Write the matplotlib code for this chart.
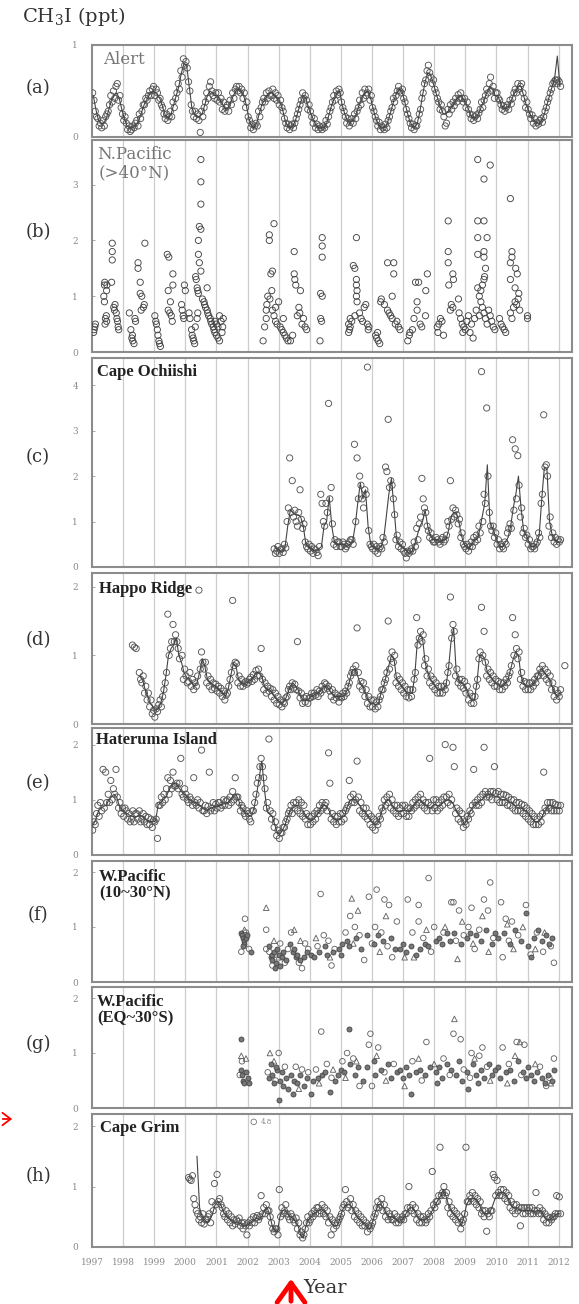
import matplotlib
matplotlib.use("Agg")
import matplotlib.pyplot as plt
import numpy as np

plt.rcParams["font.family"] = ["DejaVu Serif"]
plt.rcParams["mathtext.fontset"] = "dejavuserif"

W, H = 579, 1304
YEARS = list(range(1997, 2013))

# ---------------------------------------------------------------------------
# data.  monthly series are in ppt x 100
# "_line" = one value per month, "_obs" = two samples per month
# ---------------------------------------------------------------------------

# (a) Alert, from Jan 1997
alert_start = (1997, 1)
alert_line = [
    45, 30, 18, 15, 15, 20, 30, 40, 45, 48, 42, 30,
    20, 12, 10, 10, 12, 15, 22, 30, 38, 42, 48, 50,
    48, 45, 40, 30, 22, 20, 25, 35, 45, 55, 70, 80,
    78, 55, 32, 25, 22, 22, 25, 35, 45, 50, 48, 45,
    45, 40, 35, 30, 32, 38, 45, 50, 52, 50, 45, 35,
    20, 12, 10, 15, 25, 35, 40, 45, 48, 48, 45, 42,
    38, 30, 18, 12, 10, 12, 18, 28, 38, 45, 42, 32,
    25, 18, 12, 10, 10, 10, 15, 25, 35, 42, 48, 50,
    35, 25, 18, 15, 18, 22, 30, 38, 45, 48, 50, 42,
    30, 20, 14, 10, 10, 12, 20, 30, 40, 48, 52, 50,
    40, 28, 18, 12, 10, 15, 28, 45, 60, 70, 68, 60,
    50, 40, 32, 25, 25, 28, 32, 36, 40, 44, 45, 40,
    35, 28, 22, 20, 22, 28, 35, 42, 50, 55, 52, 45,
    45, 38, 32, 30, 32, 38, 45, 50, 55, 55, 45, 35,
    28, 22, 18, 15, 15, 18, 25, 35, 45, 55, 65, 88,
    55,
]
alert_obs = [
    48, 40, 28, 22, 20, 12, 15, 10, 18, 12, 22, 25, 28, 35, 45, 38, 50, 42, 55, 58, 40, 45, 32, 25,
    18, 22, 15, 8, 12, 6, 8, 12, 10, 15, 18, 12, 25, 20, 28, 35, 35, 42, 40, 45, 50, 45, 52, 55,
    45, 52, 48, 40, 42, 35, 32, 25, 20, 25, 18, 22, 28, 22, 38, 32, 42, 48, 58, 52, 72, 65, 85, 78,
    82, 75, 60, 50, 35, 28, 22, 28, 20, 25, 18, 5, 28, 22, 32, 38, 48, 42, 55, 60, 50, 45, 42, 48,
    40, 48, 38, 42, 30, 38, 28, 32, 35, 28, 40, 35, 48, 42, 52, 55, 50, 55, 48, 52, 42, 48, 32, 38,
    22, 18, 10, 14, 8, 12, 15, 12, 28, 22, 32, 38, 42, 38, 48, 42, 50, 45, 45, 52, 42, 48, 40, 45,
    35, 40, 32, 28, 20, 15, 10, 14, 8, 12, 14, 10, 15, 20, 25, 30, 35, 40, 48, 42, 45, 40, 30, 35,
    28, 22, 15, 20, 10, 14, 8, 12, 10, 8, 12, 10, 18, 14, 22, 28, 32, 38, 45, 40, 50, 46, 52, 48,
    38, 32, 28, 22, 15, 20, 12, 16, 20, 15, 25, 20, 28, 32, 40, 35, 48, 42, 52, 45, 48, 52, 40, 45,
    32, 28, 22, 18, 12, 16, 8, 12, 10, 8, 14, 10, 18, 22, 28, 32, 42, 38, 45, 50, 55, 50, 48, 52,
    42, 38, 30, 25, 20, 15, 10, 14, 8, 12, 12, 18, 25, 30, 42, 48, 58, 62, 72, 78, 70, 65, 58, 62,
    52, 48, 42, 38, 30, 35, 28, 22, 12, 15, 30, 25, 35, 30, 38, 34, 42, 38, 46, 42, 48, 42, 38, 42,
    32, 38, 30, 25, 20, 24, 18, 22, 24, 20, 26, 30, 38, 32, 40, 45, 52, 48, 58, 65, 50, 55, 42, 48,
    48, 42, 40, 35, 30, 34, 28, 32, 35, 30, 40, 36, 42, 48, 52, 48, 58, 52, 55, 58, 48, 42, 32, 38,
    30, 25, 20, 24, 15, 20, 12, 16, 14, 18, 20, 16, 22, 28, 32, 38, 42, 48, 52, 58, 60, 62, 58, 62,
    60, 55,
]

# (b) N.Pacific (>40N), ship data (year, ppt)
npac_pts = [
    (1997.05, 0.35), (1997.07, 0.40), (1997.09, 0.45), (1997.11, 0.50),
    (1997.40, 1.20), (1997.41, 1.25), (1997.38, 1.00), (1997.40, 0.90), (1997.43, 0.60), (1997.42, 0.50),
    (1997.47, 1.10), (1997.48, 1.20), (1997.46, 0.65), (1997.47, 0.55),
    (1997.65, 1.95), (1997.65, 1.80), (1997.65, 1.65), (1997.63, 1.25),
    (1997.70, 0.80), (1997.72, 0.75), (1997.74, 0.85),
    (1997.80, 0.60), (1997.82, 0.55), (1997.84, 0.45), (1997.86, 0.40), (1997.78, 0.70),
    (1998.20, 0.70), (1998.25, 0.40), (1998.28, 0.25), (1998.30, 0.30), (1998.31, 0.20),
    (1998.35, 0.15), (1998.40, 0.55), (1998.38, 0.60),
    (1998.48, 1.60), (1998.48, 1.50), (1998.55, 1.25), (1998.55, 1.05), (1998.60, 1.00),
    (1998.65, 0.80), (1998.58, 0.75), (1998.70, 1.95), (1998.68, 0.85),
    (1999.02, 0.65), (1999.05, 0.55), (1999.07, 0.50), (1999.10, 0.40), (1999.12, 0.30),
    (1999.15, 0.20), (1999.17, 0.15), (1999.20, 0.10),
    (1999.42, 1.75), (1999.47, 1.70), (1999.60, 1.40), (1999.60, 1.20), (1999.45, 1.10),
    (1999.52, 0.90), (1999.45, 0.75), (1999.50, 0.70), (1999.55, 0.65), (1999.58, 0.55),
    (1999.88, 0.85), (1999.90, 0.75), (1999.93, 0.65), (1999.95, 0.60), (1999.97, 1.20),
    (2000.00, 1.10), (2000.12, 0.70), (2000.15, 0.60),
    (2000.20, 0.40), (2000.22, 0.30), (2000.25, 0.25), (2000.27, 0.20), (2000.30, 0.15), (2000.32, 0.45),
    (2000.50, 3.45), (2000.50, 3.05), (2000.50, 2.65), (2000.45, 2.25), (2000.50, 2.20),
    (2000.42, 2.00), (2000.42, 1.75), (2000.45, 1.60), (2000.50, 1.45), (2000.33, 1.35),
    (2000.35, 1.30), (2000.38, 1.15), (2000.40, 1.10), (2000.42, 1.05), (2000.55, 0.95),
    (2000.60, 0.90), (2000.70, 1.15), (2000.38, 0.60), (2000.40, 0.70),
    (2000.62, 0.85), (2000.65, 0.80), (2000.70, 0.75), (2000.72, 0.70), (2000.75, 0.65),
    (2000.80, 0.60), (2000.82, 0.55), (2000.85, 0.50), (2000.90, 0.45), (2000.92, 0.40),
    (2000.95, 0.35), (2001.00, 0.30), (2001.05, 0.25), (2001.10, 0.20), (2001.15, 0.55),
    (2001.20, 0.45), (2001.22, 0.60), (2001.10, 0.65), (2000.95, 0.55), (2001.00, 0.50),
    (2001.05, 0.45), (2001.18, 0.35),
    (2002.50, 0.20), (2002.55, 0.45), (2002.60, 0.60), (2002.62, 0.85), (2002.65, 1.00),
    (2002.70, 2.10), (2002.70, 2.00), (2002.75, 1.40), (2002.78, 1.10), (2002.80, 1.45),
    (2002.85, 2.30), (2002.80, 0.75), (2002.85, 0.65), (2002.90, 0.55), (2002.95, 0.50),
    (2003.00, 0.90), (2003.05, 0.45), (2003.10, 0.40), (2003.15, 0.35), (2003.20, 0.30),
    (2003.25, 0.25), (2003.30, 0.20), (2002.60, 0.75), (2002.72, 0.95), (2002.90, 0.80),
    (2003.15, 0.60),
    (2003.50, 1.80), (2003.50, 1.40), (2003.52, 1.30), (2003.55, 1.20), (2003.70, 1.10),
    (2003.65, 0.80), (2003.68, 0.70), (2003.80, 0.60), (2003.75, 0.50), (2003.90, 0.40),
    (2003.45, 0.30), (2003.38, 0.20), (2003.60, 0.65), (2003.85, 0.45),
    (2004.40, 2.05), (2004.40, 1.90), (2004.40, 1.70), (2004.35, 1.05), (2004.40, 1.00),
    (2004.35, 0.60), (2004.38, 0.55), (2004.33, 0.20),
    (2005.50, 2.05), (2005.40, 1.55), (2005.45, 1.50), (2005.50, 1.30), (2005.50, 1.20),
    (2005.52, 1.10), (2005.50, 1.00), (2005.52, 0.90), (2005.80, 0.85), (2005.75, 0.80),
    (2005.60, 0.70), (2005.45, 0.65), (2005.30, 0.60), (2005.35, 0.55), (2005.25, 0.50),
    (2005.30, 0.45), (2005.28, 0.40), (2005.25, 0.35), (2005.85, 0.50), (2005.90, 0.45),
    (2005.88, 0.40), (2005.65, 0.60), (2005.70, 0.55),
    (2006.12, 0.30), (2006.15, 0.25), (2006.20, 0.20), (2006.25, 0.15), (2006.18, 0.35),
    (2006.50, 1.60), (2006.70, 1.60), (2006.70, 1.40), (2006.28, 0.90), (2006.30, 0.95),
    (2006.40, 0.85), (2006.50, 0.75), (2006.55, 0.70), (2006.60, 0.65), (2006.65, 0.60),
    (2006.75, 0.50), (2006.85, 0.45), (2006.65, 1.00), (2006.80, 0.55), (2006.90, 0.40),
    (2007.15, 0.20), (2007.20, 0.30), (2007.22, 0.35), (2007.30, 0.40), (2007.35, 0.60),
    (2007.45, 0.75), (2007.45, 0.90), (2007.40, 1.25), (2007.50, 1.25), (2007.73, 1.10),
    (2007.78, 1.40), (2007.55, 0.50), (2007.60, 0.45), (2007.72, 0.65),
    (2008.10, 0.45), (2008.15, 0.50), (2008.20, 0.60), (2008.25, 0.55), (2008.30, 0.30), (2008.12, 0.35),
    (2008.45, 2.35), (2008.45, 1.80), (2008.45, 1.60), (2008.60, 1.40), (2008.62, 1.30),
    (2008.47, 1.20), (2008.78, 0.95), (2008.55, 0.85), (2008.60, 0.80), (2008.52, 0.75),
    (2008.80, 0.70), (2008.85, 0.60), (2008.90, 0.50), (2008.95, 0.45), (2009.00, 0.40),
    (2009.05, 0.55), (2009.10, 0.65), (2009.15, 0.35), (2009.25, 0.25), (2009.20, 0.50),
    (2008.92, 0.35), (2009.30, 0.60),
    (2009.40, 3.45), (2009.80, 3.35), (2009.60, 3.10), (2009.40, 2.35), (2009.60, 2.35),
    (2009.70, 2.05), (2009.40, 2.05), (2009.40, 1.75), (2009.60, 1.80), (2009.60, 1.70),
    (2009.65, 1.50), (2009.62, 1.35), (2009.60, 1.30), (2009.40, 1.15), (2009.55, 1.20),
    (2009.50, 1.10), (2009.45, 1.00), (2009.50, 0.90), (2009.55, 0.80), (2009.60, 0.70),
    (2009.65, 0.60), (2009.70, 0.50), (2009.75, 0.75), (2009.80, 0.65), (2009.85, 0.55),
    (2009.90, 0.45), (2009.95, 0.40), (2009.45, 0.65), (2009.35, 0.75),
    (2010.10, 0.60), (2010.15, 0.50), (2010.20, 0.45), (2010.25, 0.40), (2010.30, 0.35),
    (2010.45, 2.75), (2010.50, 1.80), (2010.45, 1.60), (2010.50, 1.70), (2010.62, 1.50),
    (2010.45, 1.30), (2010.67, 1.40), (2010.60, 1.15), (2010.72, 1.05), (2010.70, 0.95),
    (2010.65, 0.85), (2010.55, 0.80), (2010.45, 0.70), (2010.50, 0.60), (2010.75, 0.75),
    (2010.60, 0.90),
    (2011.00, 0.65), (2011.00, 0.60),
]

# (c) Cape Ochiishi, from Nov 2002
ochiishi_start = (2002, 11)
ochiishi_line = [
    45, 40,
    35, 35, 45, 90, 125, 120, 115, 115, 110, 90, 50, 45,
    40, 38, 35, 40, 45, 90, 100, 155, 90, 55, 50, 50,
    50, 50, 45, 50, 55, 90, 140, 185, 150, 170, 90, 50,
    45, 40, 40, 45, 60, 110, 160, 195, 130, 60, 50, 45,
    40, 35, 30, 35, 50, 70, 90, 100, 125, 90, 70, 60,
    60, 60, 55, 60, 60, 80, 110, 120, 120, 100, 70, 50,
    45, 40, 50, 60, 60, 80, 110, 140, 225, 100, 85, 70,
    55, 45, 45, 55, 65, 90, 130, 160, 200, 130, 80, 70,
    55, 45, 45, 50, 70, 150, 220, 215, 100, 70, 60, 55,
    55,
]
ochiishi_obs = [
    40, 30, 35, 45,
    30, 38, 40, 32, 50, 42, 100, 130, 240, 120, 190, 110, 125, 100, 90, 120, 170, 105, 85, 95, 55, 45, 40, 50,
    35, 45, 30, 40, 38, 32, 25, 45, 160, 140, 100, 90, 140, 120, 360, 150, 175, 95, 50, 60, 45, 55, 55, 45,
    45, 55, 50, 40, 45, 50, 55, 60, 60, 50, 270, 100, 240, 150, 200, 180, 150, 130, 170, 160, 440, 80, 50, 45,
    40, 50, 35, 45, 30, 40, 45, 40, 65, 55, 220, 210, 325, 175, 190, 180, 150, 115, 60, 70, 45, 55, 40, 50,
    35, 30, 20, 35, 30, 35, 40, 35, 55, 45, 85, 60, 95, 110, 195, 150, 130, 120, 90, 80, 65, 75, 60, 55,
    55, 65, 60, 55, 50, 60, 65, 55, 60, 70, 100, 90, 190, 105, 130, 110, 125, 115, 95, 105, 65, 75, 50, 45,
    40, 50, 35, 45, 55, 45, 65, 55, 70, 60, 90, 75, 430, 100, 160, 140, 350, 200, 120, 90, 80, 90, 65, 75,
    50, 60, 40, 50, 45, 40, 55, 50, 75, 85, 95, 85, 280, 125, 260, 150, 245, 180, 110, 130, 75, 85, 65, 70,
    50, 60, 40, 45, 45, 40, 50, 55, 75, 65, 140, 160, 335, 220, 225, 200, 90, 110, 65, 75, 55, 65, 50, 60,
    55, 60,
]

# (d) Happo Ridge, from Jul 1998
happo_start = (1998, 7)
happo_line = [
    70, 65, 50, 40, 30, 25,
    20, 22, 30, 45, 70, 100, 110, 115, 125, 100, 90, 75,
    68, 65, 60, 55, 60, 75, 95, 85, 65, 60, 58, 55,
    52, 48, 45, 40, 50, 70, 88, 85, 65, 60, 58, 60,
    62, 65, 70, 75, 75, 70, 55, 50, 50, 45, 40, 35,
    32, 30, 35, 45, 55, 60, 55, 50, 40, 35, 35, 35,
    40, 42, 45, 45, 50, 55, 55, 50, 45, 40, 40, 40,
    40, 42, 50, 65, 78, 80, 70, 58, 55, 45, 35, 30,
    30, 28, 30, 45, 55, 70, 85, 100, 95, 65, 60, 55,
    50, 45, 45, 45, 70, 120, 130, 125, 90, 75, 65, 60,
    55, 50, 50, 50, 55, 80, 120, 140, 75, 62, 60, 58,
    50, 40, 35, 35, 60, 100, 100, 95, 75, 70, 65, 60,
    58, 55, 55, 60, 65, 80, 95, 105, 100, 70, 58, 55,
    55, 55, 60, 65, 75, 80, 75, 70, 65, 55, 45, 40,
    45,
]
happo_obs = [
    75, 65, 60, 70, 45, 55, 35, 45, 25, 35, 15, 20,
    10, 22, 18, 28, 35, 25, 40, 50, 60, 75, 160, 100, 110, 120, 145, 120, 130, 120, 110, 95, 195, 100, 65, 80,
    70, 60, 62, 75, 55, 65, 50, 60, 55, 70, 195, 80, 105, 90, 80, 90, 60, 70, 55, 65, 50, 60, 52, 58,
    48, 55, 45, 52, 40, 48, 35, 42, 45, 55, 65, 75, 180, 85, 90, 88, 60, 70, 55, 65, 55, 60, 62, 58,
    60, 65, 68, 62, 72, 65, 78, 70, 80, 70, 110, 65, 50, 60, 45, 55, 48, 52, 40, 50, 35, 45, 30, 40,
    28, 35, 25, 32, 30, 38, 40, 50, 55, 50, 60, 52, 58, 50, 120, 48, 38, 45, 30, 38, 32, 40, 30, 38,
    38, 45, 40, 45, 42, 50, 40, 48, 45, 55, 50, 60, 58, 52, 55, 48, 40, 50, 35, 45, 38, 42, 32, 40,
    38, 45, 40, 48, 45, 55, 60, 70, 75, 80, 75, 85, 140, 75, 55, 62, 50, 60, 40, 50, 30, 40, 25, 35,
    25, 35, 22, 32, 25, 35, 40, 50, 50, 60, 65, 75, 150, 80, 95, 105, 90, 100, 60, 70, 55, 65, 50, 60,
    45, 55, 40, 50, 38, 50, 40, 50, 65, 75, 155, 115, 125, 135, 120, 130, 85, 95, 70, 80, 60, 70, 55, 65,
    50, 60, 45, 55, 45, 55, 45, 55, 50, 60, 75, 85, 185, 125, 145, 135, 70, 80, 60, 65, 55, 65, 52, 62,
    45, 55, 35, 45, 30, 40, 30, 40, 55, 65, 95, 105, 170, 100, 135, 90, 70, 80, 65, 75, 60, 70, 55, 65,
    55, 62, 50, 60, 50, 60, 55, 65, 60, 70, 75, 85, 155, 100, 130, 110, 95, 105, 65, 75, 55, 62, 50, 60,
    50, 60, 50, 60, 55, 65, 60, 70, 70, 80, 75, 85, 70, 80, 65, 75, 60, 70, 50, 60, 40, 50, 35, 45,
    40, 50,
]
happo_extra = [(1998.30, 1.15), (1998.36, 1.12), (1998.42, 1.10), (2012.20, 0.85)]

# (e) Hateruma Island, from Jan 1997
hateruma_start = (1997, 1)
hateruma_line = [
    55, 65, 80, 85, 88, 90, 100, 105, 110, 105, 90, 80,
    78, 75, 72, 70, 68, 70, 72, 70, 65, 62, 60, 60,
    62, 90, 95, 100, 105, 115, 125, 130, 128, 122, 115, 110,
    108, 100, 98, 96, 92, 90, 85, 82, 80, 84, 86, 88,
    88, 90, 92, 94, 95, 100, 108, 110, 100, 85, 80, 75,
    72, 70, 85, 110, 140, 170, 120, 80, 75, 70, 55, 40,
    38, 45, 55, 70, 82, 85, 88, 90, 85, 80, 70, 65,
    62, 65, 70, 78, 85, 90, 88, 80, 70, 65, 62, 65,
    68, 72, 88, 98, 102, 100, 95, 88, 80, 78, 70, 62,
    58, 55, 60, 75, 90, 98, 100, 92, 85, 80, 78, 80,
    82, 80, 78, 85, 92, 98, 100, 95, 90, 88, 85, 90,
    92, 88, 90, 95, 98, 100, 98, 92, 80, 72, 68, 55,
    62, 75, 85, 90, 95, 98, 100, 105, 108, 110, 108, 106,
    105, 102, 100, 100, 98, 95, 92, 88, 85, 85, 82, 80,
    75, 68, 62, 60, 62, 68, 78, 85, 90, 88, 86, 85,
    85,
]
hateruma_obs = [
    45, 60, 55, 75, 90, 70, 95, 80, 155, 85, 150, 95, 110, 95, 135, 100, 120, 110, 155, 105, 85, 95, 75, 85,
    70, 85, 80, 65, 75, 60, 65, 80, 60, 75, 75, 65, 80, 60, 65, 75, 60, 70, 55, 68, 55, 65, 50, 62,
    60, 65, 30, 90, 90, 105, 95, 110, 100, 120, 140, 110, 135, 120, 150, 125, 125, 130, 120, 130, 175, 110, 105, 120,
    110, 100, 95, 105, 100, 90, 140, 95, 90, 100, 85, 95, 190, 80, 80, 90, 75, 88, 150, 80, 85, 95, 80, 92,
    85, 95, 95, 85, 90, 100, 90, 98, 100, 90, 105, 95, 115, 100, 140, 105, 105, 95, 80, 90, 85, 75, 70, 80,
    75, 65, 60, 80, 80, 95, 110, 130, 140, 160, 175, 160, 140, 120, 85, 95, 210, 80, 65, 75, 50, 60, 35, 45,
    30, 40, 40, 50, 50, 60, 65, 75, 80, 90, 75, 95, 85, 95, 80, 100, 75, 95, 70, 90, 65, 75, 55, 70,
    55, 70, 60, 75, 65, 80, 75, 90, 80, 95, 85, 90, 95, 80, 185, 130, 65, 75, 60, 70, 55, 70, 60, 75,
    60, 75, 65, 80, 85, 90, 135, 105, 95, 110, 95, 100, 170, 105, 80, 95, 75, 85, 70, 85, 65, 75, 55, 70,
    50, 65, 45, 60, 55, 70, 65, 85, 80, 100, 90, 105, 95, 110, 85, 100, 80, 90, 75, 90, 70, 85, 75, 90,
    75, 90, 70, 85, 70, 85, 80, 95, 85, 100, 90, 105, 95, 110, 90, 100, 85, 95, 80, 95, 175, 90, 80, 100,
    85, 100, 80, 95, 85, 100, 90, 105, 200, 105, 95, 110, 90, 100, 195, 160, 75, 85, 65, 80, 60, 75, 50, 60,
    55, 70, 65, 80, 75, 90, 155, 95, 90, 100, 90, 105, 95, 110, 195, 115, 105, 110, 105, 115, 100, 115, 160, 112,
    100, 115, 95, 110, 95, 110, 95, 108, 90, 105, 90, 100, 85, 100, 80, 95, 80, 95, 80, 92, 75, 90, 70, 85,
    65, 80, 60, 75, 55, 70, 55, 65, 55, 70, 60, 75, 150, 85, 80, 95, 85, 95, 80, 95, 80, 92, 80, 90,
    80, 90,
]

# (f) W.Pacific (10-30N), ship data by marker type (year, ppt)
wpn_circles = [
    (2001.92, 1.15), (2001.80, 0.55), (2002.05, 0.60), (2001.95, 0.90),
    (2002.60, 0.95), (2002.60, 0.60), (2002.70, 0.55), (2002.80, 0.30), (2002.90, 0.50),
    (2003.05, 0.70), (2003.20, 0.35), (2003.30, 0.60),
    (2003.40, 0.90), (2003.65, 0.35), (2003.75, 0.25), (2003.85, 0.70), (2003.95, 0.60),
    (2004.35, 1.60), (2004.45, 0.85), (2004.60, 0.75), (2004.70, 0.30), (2004.25, 0.65), (2004.80, 0.60),
    (2005.30, 1.20), (2005.15, 0.90), (2005.45, 1.00), (2005.60, 0.85), (2005.75, 0.40),
    (2006.15, 1.68), (2005.90, 1.55), (2006.40, 1.50), (2006.55, 1.40), (2006.80, 1.10),
    (2006.10, 1.00), (2006.30, 0.90), (2006.65, 0.45), (2006.00, 0.70), (2006.50, 0.65),
    (2007.15, 1.50), (2007.50, 1.40), (2007.50, 1.10), (2007.82, 1.89), (2007.30, 0.90),
    (2007.65, 0.80), (2007.90, 0.55),
    (2008.55, 1.45), (2008.62, 1.45), (2008.80, 1.30), (2008.00, 1.00), (2008.30, 0.90),
    (2008.70, 0.75), (2008.95, 0.85),
    (2009.20, 1.35), (2009.60, 1.50), (2009.73, 1.30), (2009.80, 1.81), (2009.10, 1.00),
    (2009.45, 0.95), (2009.90, 0.80), (2009.30, 0.60),
    (2010.15, 1.45), (2010.30, 1.15), (2010.50, 1.10), (2010.95, 1.40), (2010.20, 0.45),
    (2010.70, 0.85), (2010.40, 0.75),
    (2011.10, 0.50), (2011.30, 0.90), (2011.50, 0.55), (2011.85, 0.35), (2011.75, 0.65),
]
wpn_triangles = [
    (2001.90, 0.95), (2002.60, 1.35), (2002.85, 0.75), (2003.00, 0.45),
    (2003.50, 0.95), (2003.70, 0.75), (2004.20, 0.80), (2004.65, 0.45),
    (2005.35, 1.52), (2005.55, 1.30), (2005.40, 0.70), (2006.45, 1.20), (2006.25, 0.55),
    (2007.05, 0.45), (2007.35, 0.45), (2007.75, 0.95), (2008.75, 0.42), (2008.35, 1.00),
    (2008.90, 1.10), (2009.55, 1.20), (2009.25, 0.70), (2009.75, 0.55), (2010.35, 1.05),
    (2010.55, 0.60), (2010.85, 1.00), (2011.25, 0.60), (2011.55, 0.90),
]
wpn_dots = [
    (2001.80, 0.90), (2001.82, 0.85), (2001.85, 0.80), (2001.88, 0.75), (2001.90, 0.70),
    (2001.95, 0.80), (2001.98, 0.85), (2001.85, 0.65), (2002.10, 0.55),
    (2002.75, 0.45), (2002.78, 0.50), (2002.80, 0.40), (2002.85, 0.55), (2002.90, 0.35),
    (2002.95, 0.60), (2003.00, 0.50), (2003.10, 0.45), (2003.15, 0.55), (2003.25, 0.40),
    (2002.70, 0.65), (2002.88, 0.25), (2003.05, 0.30),
    (2003.35, 0.70), (2003.45, 0.55), (2003.50, 0.60), (2003.55, 0.45), (2003.60, 0.50),
    (2003.70, 0.40), (2003.80, 0.45), (2003.90, 0.55),
    (2004.05, 0.50), (2004.15, 0.45), (2004.30, 0.55), (2004.50, 0.65), (2004.55, 0.50), (2004.75, 0.55),
    (2004.95, 0.60), (2005.05, 0.70), (2005.20, 0.75), (2005.25, 0.65), (2005.50, 0.80),
    (2005.65, 0.60), (2005.00, 0.50),
    (2005.85, 0.85), (2006.05, 0.70), (2006.20, 0.85), (2006.35, 0.75), (2006.60, 0.80), (2006.75, 0.60),
    (2006.90, 0.60), (2007.00, 0.70), (2007.10, 0.55), (2007.25, 0.65), (2007.40, 0.50),
    (2007.55, 0.60), (2007.70, 0.70), (2007.80, 0.65),
    (2008.05, 0.75), (2008.15, 0.80), (2008.25, 0.70), (2008.40, 0.90), (2008.50, 0.75),
    (2008.65, 0.90), (2008.85, 0.70),
    (2009.05, 0.80), (2009.15, 0.90), (2009.35, 0.85), (2009.50, 0.75), (2009.65, 0.95),
    (2009.85, 0.70), (2009.95, 0.90),
    (2010.05, 0.80), (2010.25, 0.90), (2010.45, 0.70), (2010.60, 0.95), (2010.80, 0.75),
    (2010.95, 1.25), (2011.00, 0.65),
    (2011.20, 0.80), (2011.35, 0.95), (2011.45, 0.75), (2011.60, 0.85), (2011.70, 0.70),
    (2011.80, 0.80), (2011.10, 0.45),
]

# (g) W.Pacific (EQ-30S)
wps_circles = [
    (2001.82, 0.85), (2001.75, 0.60), (2003.00, 1.00), (2002.65, 0.65), (2002.90, 0.50), (2003.20, 0.75),
    (2003.55, 0.75), (2003.75, 0.70), (2003.95, 0.65),
    (2004.37, 1.39), (2004.20, 0.70), (2004.55, 0.80), (2004.70, 0.55),
    (2005.20, 1.00), (2005.40, 0.90), (2005.60, 0.40), (2005.05, 0.85),
    (2005.95, 1.35), (2005.90, 1.15), (2006.20, 1.10), (2006.00, 0.40), (2006.40, 0.65), (2006.70, 0.80),
    (2007.75, 1.20), (2007.30, 0.85), (2007.60, 0.50),
    (2008.62, 1.35), (2008.85, 1.25), (2008.30, 0.90), (2008.50, 0.60), (2008.95, 0.70),
    (2009.20, 1.00), (2009.45, 0.95), (2009.55, 1.10), (2009.70, 0.75), (2009.15, 0.55),
    (2010.20, 1.10), (2010.65, 1.20), (2010.90, 1.15), (2010.40, 0.80), (2010.80, 0.60),
    (2011.40, 0.75), (2011.60, 0.40), (2011.85, 0.90), (2011.70, 0.55),
]
wps_triangles = [
    (2001.80, 0.95), (2001.95, 0.90), (2002.72, 1.00), (2002.85, 0.85), (2003.65, 0.35),
    (2004.30, 0.45), (2004.75, 0.70), (2005.15, 0.55), (2005.50, 0.85), (2006.15, 0.95),
    (2006.45, 0.50), (2007.05, 0.40), (2007.50, 0.90), (2008.65, 1.62), (2008.00, 0.80),
    (2009.30, 0.90), (2009.80, 0.50), (2010.75, 1.20), (2010.35, 0.45), (2010.60, 0.95),
    (2011.25, 0.80), (2011.75, 0.45),
]
wps_dots = [
    (2001.78, 1.25), (2001.80, 0.70), (2001.82, 0.60), (2001.85, 0.50), (2001.90, 0.45),
    (2001.95, 0.65), (2002.00, 0.55), (2002.05, 0.45),
    (2002.70, 0.55), (2002.75, 0.80), (2002.80, 0.60), (2002.85, 0.45), (2002.95, 0.70),
    (2003.00, 0.15), (2003.05, 0.50), (2003.10, 0.65), (2003.15, 0.40), (2003.25, 0.55),
    (2003.30, 0.35), (2002.90, 0.75),
    (2003.40, 0.60), (2003.45, 0.25), (2003.50, 0.50), (2003.60, 0.45), (2003.70, 0.60),
    (2003.80, 0.40), (2003.90, 0.55),
    (2004.03, 0.25), (2004.10, 0.50), (2004.25, 0.55), (2004.40, 0.60), (2004.50, 0.65),
    (2004.65, 0.30), (2004.80, 0.50),
    (2005.25, 1.44), (2004.90, 0.60), (2005.00, 0.70), (2005.10, 0.65), (2005.30, 0.80),
    (2005.45, 0.60), (2005.55, 0.75), (2005.70, 0.50),
    (2005.85, 0.75), (2006.05, 0.85), (2006.10, 0.60), (2006.30, 0.70), (2006.50, 0.80),
    (2006.60, 0.55), (2006.80, 0.65),
    (2006.90, 0.70), (2007.00, 0.55), (2007.10, 0.75), (2007.20, 0.60), (2007.25, 0.25),
    (2007.40, 0.65), (2007.55, 0.70), (2007.70, 0.60), (2007.85, 0.75),
    (2008.05, 0.65), (2008.15, 0.75), (2008.25, 0.55), (2008.40, 0.80), (2008.55, 0.70),
    (2008.70, 0.60), (2008.80, 0.85), (2008.90, 0.50), (2008.10, 0.45),
    (2009.10, 0.35), (2009.05, 0.65), (2009.25, 0.80), (2009.35, 0.60), (2009.50, 0.70),
    (2009.60, 0.55), (2009.75, 0.80), (2009.85, 0.60), (2009.95, 0.70), (2009.40, 0.45),
    (2010.05, 0.75), (2010.10, 0.55), (2010.30, 0.65), (2010.45, 0.70), (2010.55, 0.50),
    (2010.70, 0.85), (2010.85, 0.65), (2010.95, 0.55), (2011.00, 0.75),
    (2011.10, 0.60), (2011.20, 0.50), (2011.30, 0.65), (2011.45, 0.55), (2011.55, 0.45),
    (2011.65, 0.60), (2011.80, 0.50), (2011.85, 0.70),
]

# (h) Cape Grim: line from May 2000, samples from Feb 2000
grim_line_start = (2000, 5)
grim_line = [
    150, 65, 50, 45, 40, 45, 55, 70,
    75, 72, 60, 52, 48, 45, 42, 40, 40, 38, 35, 35,
    38, 42, 45, 48, 45, 50, 60, 65, 55, 35, 28, 25,
    50, 60, 62, 55, 50, 48, 42, 35, 20, 15, 35, 45,
    50, 55, 58, 60, 62, 60, 55, 45, 38, 35, 35, 45,
    60, 68, 70, 70, 65, 55, 48, 45, 40, 38, 30, 32,
    45, 60, 70, 70, 65, 55, 50, 50, 48, 45, 42, 45,
    50, 58, 65, 65, 60, 50, 45, 45, 45, 48, 55, 62,
    70, 78, 85, 95, 85, 70, 60, 55, 50, 45, 35, 50,
    70, 78, 80, 80, 78, 70, 58, 55, 55, 58, 68, 80,
    88, 90, 90, 88, 80, 70, 65, 65, 62, 60, 60, 60,
    60, 60, 58, 60, 60, 58, 50, 45, 45, 48, 52, 55,
    55,
]
grim_obs_start = (2000, 2)
grim_obs = [
    115, 112, 110, 118, 80, 70, 60, 55, 45, 50, 40, 55, 38, 45, 45, 50, 55, 40, 75, 60, 105, 70,
    120, 75, 80, 70, 65, 55, 50, 60, 45, 55, 40, 50, 35, 45, 38, 45, 42, 48, 35, 40, 30, 40, 35, 20,
    40, 35, 45, 40, 50, 40, 48, 52, 45, 50, 85, 55, 65, 55, 70, 60, 60, 50, 40, 30, 25, 30, 30, 20,
    95, 50, 65, 55, 60, 70, 55, 50, 45, 55, 50, 45, 40, 48, 30, 40, 20, 25, 15, 20, 30, 40, 50, 40,
    45, 55, 50, 60, 55, 65, 65, 55, 60, 70, 55, 65, 50, 60, 40, 50, 20, 45, 30, 40, 35, 40, 45, 50,
    55, 65, 70, 95, 75, 65, 70, 80, 60, 70, 50, 60, 45, 55, 40, 50, 35, 45, 35, 40, 25, 35, 30, 35,
    40, 50, 55, 65, 75, 65, 70, 80, 60, 70, 50, 60, 45, 55, 50, 45, 45, 55, 40, 50, 40, 45, 45, 50,
    45, 55, 55, 65, 100, 65, 60, 70, 55, 65, 45, 55, 40, 50, 40, 50, 45, 40, 45, 55, 50, 60, 125, 70,
    65, 75, 75, 85, 165, 85, 90, 100, 85, 90, 65, 75, 55, 65, 50, 60, 45, 55, 40, 50, 30, 40, 45, 55,
    165, 75, 75, 85, 80, 90, 75, 85, 70, 80, 65, 75, 55, 60, 50, 60, 26, 55, 50, 60, 60, 120, 115, 85,
    110, 90, 85, 95, 85, 95, 80, 90, 75, 85, 65, 75, 60, 70, 55, 70, 60, 65, 35, 65, 55, 65, 55, 65,
    60, 65, 55, 65, 55, 60, 90, 60, 55, 65, 55, 60, 45, 55, 40, 50, 40, 48, 45, 50, 50, 55, 85, 55,
    83, 55,
]
grim_offscale = (2002.20, 4.8)   # off the scale, marked with its value


# ---------------------------------------------------------------------------
def month_x(start, n, per_month=1):
    i = np.arange(n)
    return start[0] + (start[1] - 1 + i // per_month + (i % per_month + 0.5) / per_month) / 12


def ppt(vals):
    return np.array(vals) / 100.0


fig = plt.figure(figsize=(W / 100, H / 100), dpi=100)


def panel(top, bottom, ymax, ticks):
    ax = fig.add_axes([92 / W, 1 - bottom / H, 480 / W, (bottom - top) / H])
    ax.set_xlim(1997, 2012.43)
    ax.set_ylim(0, ymax)
    for yr in YEARS[1:]:
        ax.axvline(yr, color="#cdcdcd", lw=0.9, zorder=0)
    ax.set_xticks([])
    ax.set_yticks(ticks)
    ax.set_yticklabels([str(t) for t in ticks])
    ax.tick_params(axis="y", direction="in", length=2, width=0.6, color="#999999",
                   labelsize=6.5, labelcolor="#8a8a8a", pad=10)
    for s in ax.spines.values():
        s.set_color("#8c8c8c")
        s.set_linewidth(1.5)
    return ax


def label(ax, text, dx, dy, bold=True, color="#222222"):
    if bold:
        ax.annotate(text, xy=(0, 1), xycoords="axes fraction", xytext=(dx, -dy),
                    textcoords="offset pixels", va="top", ha="left", fontsize=12,
                    family=["Liberation Serif", "DejaVu Serif"], weight="bold",
                    color=color, linespacing=1.05)
    else:
        ax.annotate(text, xy=(0, 1), xycoords="axes fraction", xytext=(dx, -dy),
                    textcoords="offset pixels", va="top", ha="left", fontsize=12,
                    color=color, multialignment="center", linespacing=1.1)


def circles(ax, x, y, s=20, ec="#555555"):
    ax.scatter(x, y, s=s, facecolors="none", edgecolors=ec, linewidths=0.65, zorder=3, clip_on=True)


def monthly_panel(ax, start, line, obs, obs_start=None):
    ob = ppt(obs)
    circles(ax, month_x(obs_start or start, len(ob), 2), ob)
    ln = ppt(line)
    ax.plot(month_x(start, len(ln)), ln, color="#444444", lw=0.8, zorder=4)


def points(ax, pts, kind):
    x, y = zip(*pts)
    if kind == "o":
        circles(ax, x, y, s=16, ec="#666666")
    elif kind == "^":
        ax.scatter(x, y, s=16, marker="^", facecolors="none", edgecolors="#666666",
                   linewidths=0.65, zorder=3)
    else:
        ax.scatter(x, y, s=13, marker="o", facecolors="#777777", edgecolors="#444444",
                   linewidths=0.6, zorder=3)


# (a)
ax = panel(45, 137, 1.0, [0, 1])
monthly_panel(ax, alert_start, alert_line, alert_obs)
label(ax, "Alert", 11, 6, bold=False, color="#777777")

# (b)
ax = panel(140, 352, 3.8, [0, 1, 2, 3])
x, y = zip(*npac_pts)
circles(ax, x, y, s=20, ec="#444444")
label(ax, "N.Pacific\n(>40°N)", 5, 6, bold=False, color="#777777")

# (c)
ax = panel(358, 567, 4.6, [0, 1, 2, 3, 4])
monthly_panel(ax, ochiishi_start, ochiishi_line, ochiishi_obs)
label(ax, "Cape Ochiishi", 5, 6)

# (d)
ax = panel(573, 724, 2.2, [0, 1, 2])
monthly_panel(ax, happo_start, happo_line, happo_obs)
x, y = zip(*happo_extra)
circles(ax, x, y)
label(ax, "Happo Ridge", 7, 8)

# (e)
ax = panel(728, 855, 2.3, [0, 1, 2])
monthly_panel(ax, hateruma_start, hateruma_line, hateruma_obs)
label(ax, "Hateruma Island", 4, 4)

# (f)
ax = panel(861, 982, 2.2, [0, 1, 2])
points(ax, wpn_circles, "o")
points(ax, wpn_triangles, "^")
points(ax, wpn_dots, ".")
label(ax, "W.Pacific\n(10~30°N)", 7, 8)

# (g)
ax = panel(987, 1108, 2.2, [0, 1, 2])
points(ax, wps_circles, "o")
points(ax, wps_triangles, "^")
points(ax, wps_dots, ".")
label(ax, "W.Pacific\n(EQ~30°S)", 5, 7)

# (h)
ax = panel(1114, 1247, 2.2, [0, 1, 2])
monthly_panel(ax, grim_line_start, grim_line, grim_obs, obs_start=grim_obs_start)
ax.scatter([grim_offscale[0]], [2.07], s=16, facecolors="none", edgecolors="#777777",
           linewidths=0.6, zorder=3)
ax.annotate(f"{grim_offscale[1]}", (grim_offscale[0], 2.07), xytext=(5, 0),
            textcoords="offset points", va="center", fontsize=5, color="#888888")
label(ax, "Cape Grim", 8, 6)
ax.set_xticks(YEARS)
ax.set_xticklabels([str(y) for y in YEARS])
ax.tick_params(axis="x", length=0, labelsize=6.5, labelcolor="#8a8a8a", pad=8)

# figure text
fig.text(22 / W, 1 - 17 / H, "CH$_3$I (ppt)", fontsize=14, va="center", ha="left", color="#333333")
for letter, ypx in zip("abcdefgh", [88, 232, 457, 640, 783, 915, 1044, 1176]):
    fig.text(38 / W, 1 - ypx / H, f"({letter})", fontsize=13, ha="center", va="center",
             color="#333333")
fig.text(303 / W, 1 - 1288 / H, "Year", fontsize=14, ha="left", va="center", color="#333333")

# red markers in the margin
fig.add_artist(matplotlib.patches.FancyArrowPatch(
    (291 / W, 0.0), (291 / W, 1 - 1276 / H), transform=fig.transFigure,
    arrowstyle="->,head_width=0.5,head_length=0.7", mutation_scale=20, lw=3.5, color="red"))
fig.add_artist(matplotlib.patches.FancyArrowPatch(
    (0.0, 1 - 1119 / H), (15 / W, 1 - 1119 / H), transform=fig.transFigure,
    arrowstyle="->,head_width=0.3,head_length=0.4", mutation_scale=15, lw=1.3, color="red"))

fig.savefig("out.png", dpi=100)
